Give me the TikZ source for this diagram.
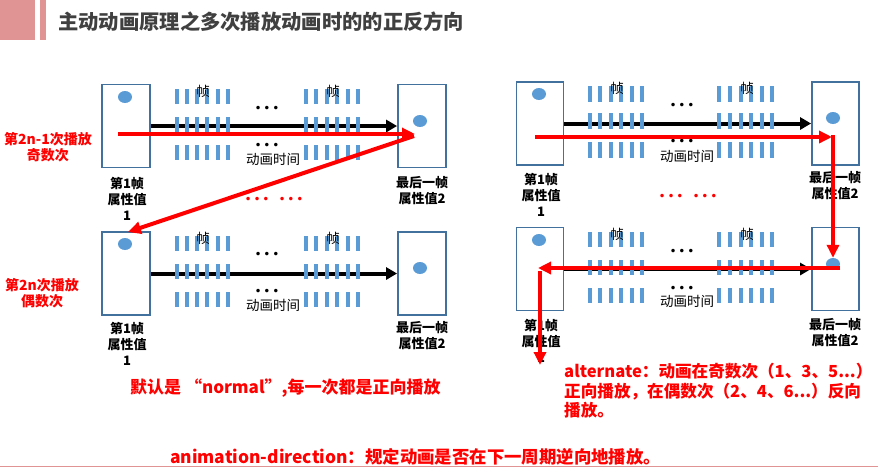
\documentclass[tikz,border=0pt]{standalone}
\usepackage{fontspec}
\setmainfont{Noto Sans CJK SC}
\newfontfamily\symfont{DejaVu Sans}
\usetikzlibrary{arrows.meta,shapes.geometric}

\definecolor{boxline}{HTML}{41719C}
\definecolor{fillblue}{HTML}{5B9BD5}
\definecolor{barpink}{HTML}{E09494}
\definecolor{titlegray}{HTML}{404040}
\definecolor{hotred}{HTML}{FF0000}

% three small dots
\newcommand\ellip{{\symfont\fontsize{12}{12}\selectfont •\kern1.8pt•\kern1.8pt•}}

\tikzset{
  frame/.style={draw=boxline, line width=1.8pt, minimum width=47pt, minimum height=83pt, inner sep=0pt},
  dotmark/.style={ellipse, fill=fillblue, minimum width=14pt, minimum height=12pt, inner sep=0pt},
  timeline/.style={line width=4pt, -{Triangle[length=11pt,width=12pt]}},
  playpath/.style={hotred, line width=4pt, -{Triangle[length=13pt,width=12pt]}},
  small/.style={font=\fontsize{13.5}{15}\selectfont, inner sep=0pt},
  caption/.style={font=\bfseries\fontsize{13}{16}\selectfont, align=center, inner sep=0pt},
  redlabel/.style={text=hotred, font=\bfseries\fontsize{14}{16}\selectfont, align=center, inner sep=0pt},
  note/.style={text=hotred, font=\bfseries\fontsize{17}{19.5}\selectfont, inner sep=0pt},
  reddots/.style={text=hotred, inner sep=0pt},
}

\begin{document}
\begin{tikzpicture}[x=1pt,y=-1pt]
\useasboundingbox (0,0) rectangle (878,467);

% heading
\fill[barpink] (0,0) rectangle (35,40);
\fill[barpink] (40,0) rectangle (46,40);
\node[anchor=west, text=titlegray, font=\bfseries\fontsize{20.3}{24}\selectfont, inner sep=0pt] (title) at (58,22) {主动动画原理之多次播放动画时的的正反方向};
\draw[barpink, line width=1pt] (0,466) -- (878,466);

% ---------- frame boxes ----------
\node[frame, minimum width=48pt] (a1) at (126,126) {};
\node[frame, minimum width=48pt] (a2) at (422,126) {};
\node[frame, minimum width=48pt] (b1) at (126,273.5) {};
\node[frame, minimum width=48pt] (b2) at (422,273.5) {};
\node[frame] (c1) at (540,123.5) {};
\node[frame] (c2) at (835.5,123.5) {};
\node[frame] (d1) at (540,269) {};
\node[frame] (d2) at (835.5,269) {};

% time lines
\draw[timeline] (a1.east) -- (a2.west);
\draw[timeline] (b1.east) -- (b2.west);
\draw[timeline] (c1.east) -- (c2.west);
\draw[timeline] (d1.east) -- (d2.west);

% frame ticks
\foreach \bx in {177,187,197,207,218,228,306,316,327,337,348,358}{
  \foreach \by in {89,117,145}{\fill[fillblue] (\bx-2,\by) rectangle (\bx+2,\by+15);}
  \foreach \by in {236,264,292}{\fill[fillblue] (\bx-2,\by) rectangle (\bx+2,\by+15);}
}
\foreach \bx in {590,600,611,621,632,642,719,730,741,751,762,772}{
  \foreach \by in {86,113,142}{\fill[fillblue] (\bx-2,\by) rectangle (\bx+2,\by+16);}
  \foreach \by in {232,260,288}{\fill[fillblue] (\bx-2,\by) rectangle (\bx+2,\by+15);}
}

% property dots
\node[dotmark] (a1d) at (125,97) {};
\node[dotmark] (a2d) at (420,121) {};
\node[dotmark] (b1d) at (125,244) {};
\node[dotmark] (b2d) at (420,268) {};
\node[dotmark] (c1d) at (539,94) {};
\node[dotmark] (c2d) at (833,118) {};
\node[dotmark] (d1d) at (539,240) {};
\node[dotmark] (d2d) at (833,264) {};

% ---------- texts, left column ----------
\node[small] (af1) at (203,91) {帧};
\node[small] (af2) at (333,91) {帧};
\node[inner sep=0pt] (ae1) at (267,109) {\ellip};
\node[inner sep=0pt] (ae2) at (267,146) {\ellip};
\node[small] (at) at (273,159) {动画时间};
\node[caption] (a1l) at (127,199) {第1帧\\属性值\\1};
\node[caption] (a2l) at (422,191) {最后一帧\\属性值2};
\node[reddots] (ar) at (274,200) {\ellip\kern9pt\ellip};

\node[small] (bf1) at (203,238) {帧};
\node[small] (bf2) at (333,238) {帧};
\node[inner sep=0pt] (be1) at (267,255) {\ellip};
\node[inner sep=0pt] (be2) at (267,292) {\ellip};
\node[small] (bt) at (273,305) {动画时间};
\node[caption] (b1l) at (127,344) {第1帧\\属性值\\1};
\node[caption] (b2l) at (422,336) {最后一帧\\属性值2};

\node[redlabel] (odd) at (48,147) {第2n-1次播放\\奇数次};
\node[redlabel] (even) at (42,293.5) {第2n次播放\\偶数次};

% ---------- texts, right column ----------
\node[small] (cf1) at (617,88) {帧};
\node[small] (cf2) at (747,88) {帧};
\node[inner sep=0pt] (ce1) at (682,106) {\ellip};
\node[inner sep=0pt] (ce2) at (682,142) {\ellip};
\node[small] (ct) at (687,156) {动画时间};
\node[caption] (c1l) at (541,194.5) {第1帧\\属性值\\1};
\node[caption] (c2l) at (835,186) {最后一帧\\属性值2};
\node[reddots] (cr) at (688,197) {\ellip\kern9pt\ellip};

\node[small] (df1) at (617,234) {帧};
\node[small] (df2) at (747,234) {帧};
\node[inner sep=0pt] (de1) at (682,252) {\ellip};
\node[inner sep=0pt] (de2) at (682,289) {\ellip};
\node[small] (dt) at (687,301) {动画时间};
\node[caption] (d1l) at (541,340.5) {第1帧\\属性值\\1};
\node[caption] (d2l) at (835,332.5) {最后一帧\\属性值2};

% notes
\node[note, anchor=west] (normal) at (130,388) {默认是 “normal”,每一次都是正向播放};
\node[note, anchor=west, align=left, font=\bfseries\fontsize{16.6}{19.5}\selectfont] (alt) at (564,391) {alternate：动画在奇数次（1、3、5...）\\正向播放，在偶数次（2、4、6...）反向\\播放。};
\node[note, anchor=west, font=\bfseries\fontsize{17.4}{19.5}\selectfont] (def) at (170,457) {animation-direction：规定动画是否在下一周期逆向地播放。};

% ---------- playback paths ----------
\coordinate (p1) at (118,134);
\coordinate (p2) at (415,134);
\coordinate (p3) at (414,136);
\coordinate (p4) at (128,232);
\draw[playpath] (p1) -- (p2);
\draw[playpath] (p3) -- (p4);

\coordinate (q1) at (535,137);
\coordinate (q2) at (832,137);
\coordinate (q3) at (833,135);
\coordinate (q4) at (840,268);
\coordinate (q5) at (538,268);
\coordinate (q6) at (540,271);
\coordinate (q7) at (540,365);
\draw[playpath] (q1) -- (q2);
\draw[playpath] (q3) -- (d2d.north);
\draw[playpath] (q4) -- (q5);
\draw[playpath] (q6) -- (q7);
\end{tikzpicture}
\end{document}
